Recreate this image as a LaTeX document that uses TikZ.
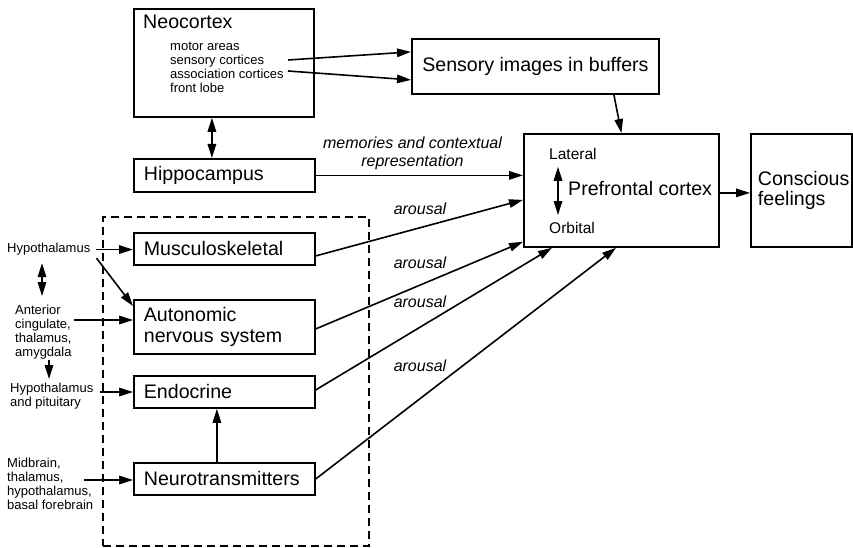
\documentclass[tikz,border=0pt]{standalone}
\usepackage{fontspec}
\setmainfont{Liberation Sans}
\usetikzlibrary{arrows.meta,calc}

% font sizes used in the figure
\newcommand\fntBox{\fontsize{19.6}{20.5}\selectfont}
\newcommand\fntSmall{\fontsize{13}{13.8}\selectfont}
\newcommand\fntMid{\fontsize{15.5}{16}\selectfont}
\newcommand\fntItal{\fontsize{16}{18}\selectfont\itshape}

\tikzset{
  box/.style={draw, line width=1.8pt, anchor=north west, inner xsep=10pt,
              inner ysep=0pt, align=left, font=\fntBox},
  grpbox/.style={draw, line width=1.8pt, anchor=north west, inner sep=0pt,
                 dash pattern=on 8pt off 5pt},
  lbl/.style={anchor=north west, inner sep=0pt, align=left, font=\fntSmall},
  txt/.style={anchor=north west, inner sep=0pt, align=left},
  ital/.style={anchor=base, inner sep=0pt, font=\fntItal},
  arr/.style={line width=1.6pt, -{Triangle[length=14pt,width=8.5pt]}},
  dbl/.style={line width=1.6pt, {Triangle[length=14pt,width=8.5pt]}-{Triangle[length=14pt,width=8.5pt]}},
}

\begin{document}
\begin{tikzpicture}[x=1pt,y=-1pt]
\useasboundingbox (0,0) rectangle (853,548);

% ---- upper boxes
\node[box, minimum width=180pt, minimum height=108pt] (neo) at (133,8) {};
\node[txt, font=\fntBox] (neotitle) at (143,15) {Neocortex};
\node[txt, font=\fntSmall] (neolist) at (170,42.3)
  {motor areas\\sensory cortices\\association cortices\\front lobe};

\node[box, text width=161pt, minimum height=33pt] (hip) at (133,158) {Hippocampus};
\node[box, inner xsep=0pt, minimum width=247pt, minimum height=55pt] (sens) at (411,38)
  {Sensory images in buffers};

% ---- prefrontal cortex and output
\node[box, minimum width=195pt, minimum height=113pt] (pfc) at (523,133) {};
\node[txt, font=\fntMid] (lat) at (549,148) {Lateral};
\node[txt, font=\fntMid] (orb) at (549,222) {Orbital};
\node[txt, font=\fntBox] (pfctext) at (568,181.5) {Prefrontal cortex};

\node[box, inner xsep=7pt, text width=87pt, minimum height=113pt] (con) at (750,133)
  {Conscious\\feelings};

% ---- bodily systems
\node[grpbox, minimum width=266pt, minimum height=329pt] (grp) at (102,216) {};
\node[box, text width=161pt, minimum height=32pt] (musc) at (133,232) {Musculoskeletal};
\node[box, text width=161pt, minimum height=54pt] (auto) at (133,299) {Autonomic\\nervous system};
\node[box, text width=161pt, minimum height=32pt] (endo) at (133,375) {Endocrine};
\node[box, text width=161pt, minimum height=32pt] (neur) at (133,462) {Neurotransmitters};

% ---- brain regions on the left
\node[lbl] (hyp) at (7,243.3) {Hypothalamus};
\node[lbl] (ant) at (15,305.3) {Anterior\\cingulate,\\thalamus,\\amygdala};
\node[lbl] (hp) at (10,383.3) {Hypothalamus\\and pituitary};
\node[lbl] (mid) at (7,458.3) {Midbrain,\\thalamus,\\hypothalamus,\\basal forebrain};

% ---- arrow labels
\node[ital] (mem1) at (412.5,149) {memories and contextual};
\node[ital] (mem2) at (412.5,167) {representation};
\node[ital] (ar1) at (420,214) {arousal};
\node[ital] (ar2) at (420,268) {arousal};
\node[ital] (ar3) at (420,307) {arousal};
\node[ital] (ar4) at (420,371) {arousal};

% ---- connectors
\coordinate (n1) at (288,60);
\coordinate (n2) at (288,71);
\draw[arr] (n1) -- ([yshift=14.5pt]sens.west);
\draw[arr] (n2) -- ([yshift=-13.5pt]sens.west);
\draw[dbl] ([xshift=-12pt]neo.south) -- ([xshift=-12.5pt]hip.north);
\draw[arr] ([xshift=78.5pt]sens.south) -- (pfc.north);
\draw[arr] (hip.east) -- (hip.east -| pfc.west);
\draw[arr] ([yshift=-7pt]musc.east) -- ([yshift=-9.5pt]pfc.west);
\draw[arr] ([yshift=-2pt]auto.east) -- ([yshift=6pt]pfc.south west);
\draw[arr] ([yshift=2pt]endo.east) -- ([xshift=29pt]pfc.south west);
\draw[arr] (neur.east) -- ([xshift=93pt]pfc.south west);
\coordinate (pout) at ([yshift=-2.5pt]pfc.east);
\draw[arr] (pout) -- (pout -| con.west);
\draw[dbl] ([shift={(9pt,-7pt)}]lat.south west) -- ([shift={(9pt,7pt)}]orb.north west);
\draw[arr] ([xshift=-7.5pt]neur.north) -- ([xshift=-7.5pt]endo.south);

% start points of the inputs from the left
\coordinate (hs) at ([xshift=6pt]hyp.east);
\coordinate (as) at ([shift={(2.4pt,-14.7pt)}]ant.north east);
\coordinate (ps) at ([shift={(7pt,-8.7pt)}]hp.north east);
\coordinate (ms) at ([shift={(77pt,-21.7pt)}]mid.north west);

\draw[arr] (hs) -- (hs -| musc.west);
\draw[arr] ([shift={(6pt,-2.3pt)}]hyp.south east) -- ([yshift=-7pt]auto.north west);
\draw[dbl] ([shift={(35pt,-7.3pt)}]hyp.south west) -- ([shift={(27pt,9.3pt)}]ant.north west);
\draw[arr] (as) -- (as -| auto.west);
\draw[arr] ([shift={(34pt,-1pt)}]ant.south west) -- ([shift={(39pt,4.3pt)}]hp.north west);
\draw[arr] (ps) -- (ps -| endo.west);
\draw[arr] (ms) -- (ms -| neur.west);
\end{tikzpicture}
\end{document}
